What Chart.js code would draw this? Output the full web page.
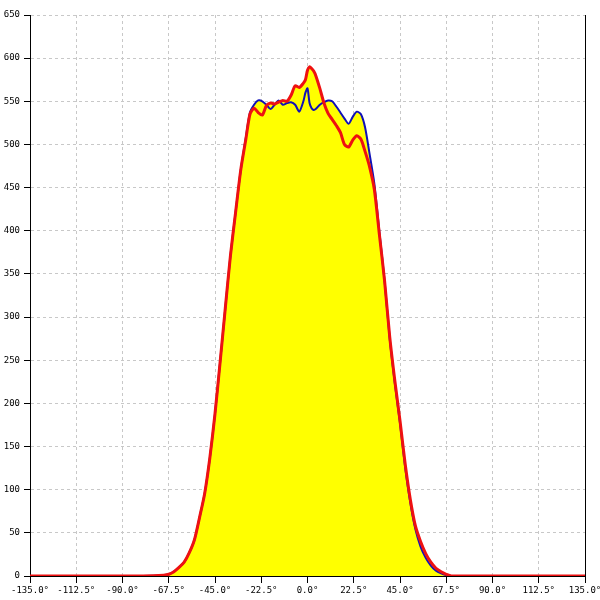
<!DOCTYPE html>
<html>
<head>
<meta charset="utf-8">
<script src="https://cdn.jsdelivr.net/npm/chart.js@4.4.0/dist/chart.umd.min.js"></script>
<style>
  html, body { margin: 0; padding: 0; background: #fff; }
</style>
</head>
<body>
<canvas id="chart" width="600" height="600"></canvas>
<script>
// angle (deg) of each sample
const angles = [-90, -80, -70, -67.5, -65, -62.5, -60, -57.5, -55, -52.5, -50, -47.5, -45, -42.5, -40, -37.5, -35, -32.5, -30,
    -28, -26, -24, -22, -20, -18, -16, -14, -12, -10, -8, -6, -4, -2, -1, 0, 1, 2, 3, 4, 6, 8, 10, 12, 14, 16, 18, 20,
    22, 24, 26, 28, 30, 32.5, 35, 37.5, 40, 42.5, 45, 47.5, 50, 52.5, 55, 57.5, 60, 62.5, 65, 67.5, 70, 80, 90];

const blueValues = [0, 0, 1, 2, 5, 10, 16, 27, 42, 68, 96, 137, 188, 248, 310, 371, 421, 470, 508,
    537, 546, 551, 550, 546, 541, 546, 551, 546, 548, 549, 546, 538, 550, 560, 565, 548, 542, 540, 541, 546, 549, 551, 550, 544, 537, 530, 524,
    532, 538, 535, 520, 492, 455, 398, 342, 275, 223, 177, 126, 85, 54, 34, 21, 12, 6, 3, 1, 0, 0, 0];

const redValues = [0, 0, 1, 2, 5, 10, 16, 27, 42, 68, 96, 137, 188, 248, 310, 371, 421, 470, 506,
    535, 542, 537, 534, 545, 548, 547, 549, 551, 550, 557, 568, 566, 571, 575, 586, 590, 588, 585, 580, 565, 548, 536, 529, 522, 514, 500, 497,
    505, 510, 506, 492, 476, 448, 395, 342, 277, 226, 180, 130, 89, 58, 40, 26, 16, 9, 5, 2, 0, 0, 0];

const xMin = -135, xMax = 135, xStep = 22.5;
const yMin = 0, yMax = 650, yStep = 50;

const tickFont = { family: 'DejaVu Sans Mono', size: 9 };

const blueData = angles.map((a, i) => ({ x: a, y: blueValues[i] }));
const redData = [{ x: xMin, y: 0 }, ...angles.map((a, i) => ({ x: a, y: redValues[i] })), { x: xMax, y: 0 }];

new Chart(document.getElementById('chart'), {
    type: 'line',
    data: {
        datasets: [
            {
                label: 'red',
                data: redData,
                borderColor: '#ee1111',
                borderWidth: 3,
                backgroundColor: '#ffff00',
                fill: 'origin',
                pointRadius: 0,
                tension: 0.25
            },
            {
                label: 'blue',
                data: blueData,
                borderColor: '#1010b8',
                borderWidth: 2,
                backgroundColor: '#ffff00',
                fill: 'origin',
                pointRadius: 0,
                tension: 0.25
            }
        ]
    },
    options: {
        responsive: false,
        animation: false,
        layout: { padding: { top: 15, left: 0, right: 0, bottom: 0 } },
        plugins: {
            legend: { display: false },
            tooltip: { enabled: false },
            filler: { drawTime: 'beforeDatasetsDraw' }
        },
        scales: {
            x: {
                type: 'linear',
                min: xMin, max: xMax,
                afterBuildTicks: (scale) => {
                    const ticks = [];
                    for (let v = xMin; v <= xMax; v += xStep) ticks.push({ value: v });
                    scale.ticks = ticks;
                },
                afterFit: (scale) => { scale.height = 24; scale.paddingLeft = 0; scale.paddingRight = 0; },
                ticks: {
                    autoSkip: false, maxRotation: 0, color: '#000', font: tickFont, padding: 2,
                    callback: (v) => v.toFixed(1) + '°'
                },
                grid: { color: '#c8c8c8', tickColor: '#000', tickLength: 7 },
                border: { display: true, color: '#000', dash: [3, 3] }
            },
            y: {
                min: yMin, max: yMax,
                afterFit: (scale) => { scale.width = 30; },
                ticks: {
                    stepSize: yStep, color: '#000', font: tickFont, padding: 4,
                    callback: (v) => String(v)
                },
                grid: { color: '#c8c8c8', tickColor: '#000', tickLength: 6 },
                border: { display: true, color: '#000', width: 1, dash: [3, 3] }
            },
            y2: {
                position: 'right',
                min: yMin, max: yMax,
                afterFit: (scale) => { scale.width = 15; },
                ticks: { display: false },
                grid: { display: false },
                border: { display: true, color: '#000', width: 1 }
            }
        }
    }
});
</script>
</body>
</html>
